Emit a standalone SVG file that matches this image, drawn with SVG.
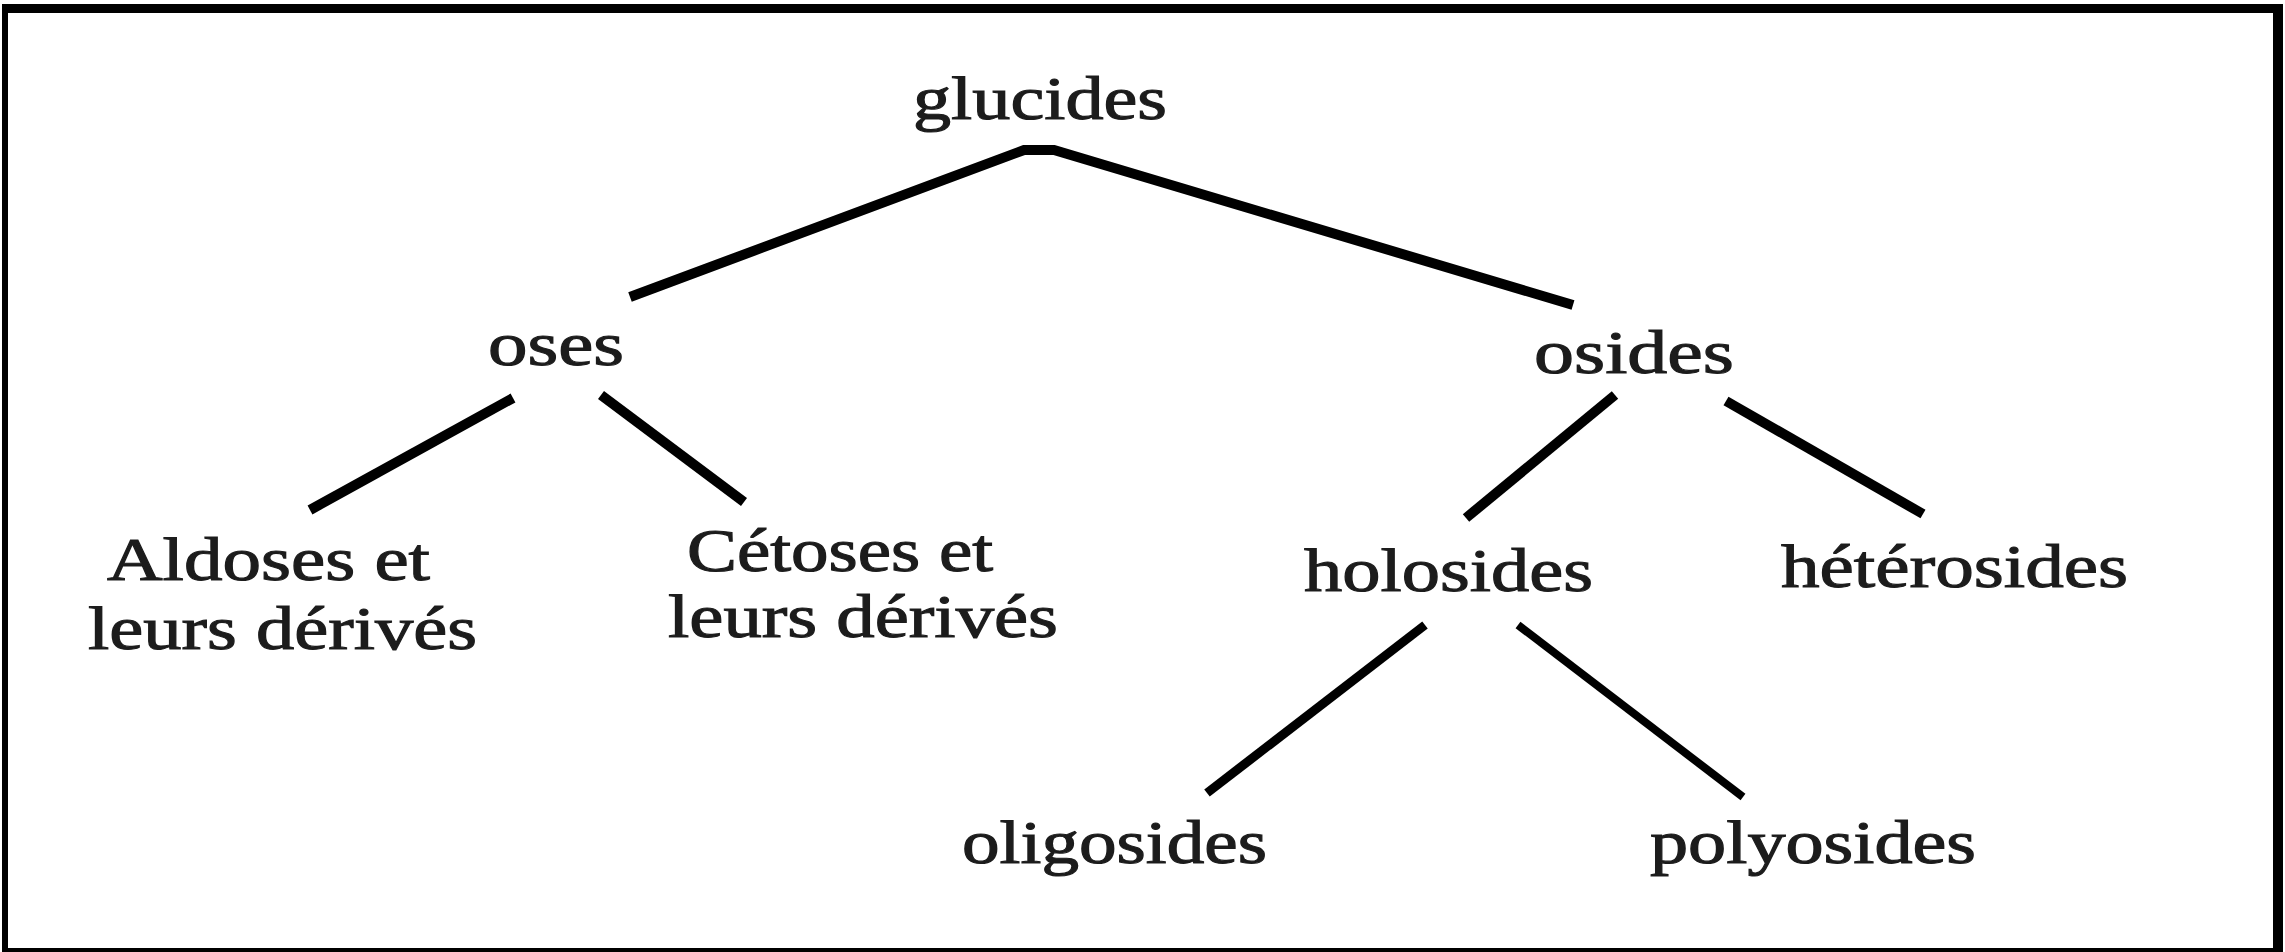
<svg xmlns="http://www.w3.org/2000/svg" width="2285" height="952" viewBox="0 0 2285 952">
  <style>
    .lbl { font-family: "Liberation Serif", "Times New Roman", serif; font-size: 62px; fill: #1c1c1c; stroke: #1c1c1c; stroke-width: 1.1px; }
    .edge { stroke: #000; stroke-linecap: butt; stroke-linejoin: miter; fill: none; }
    .frame { fill: #000; }
  </style>
  <rect x="0" y="0" width="2285" height="952" fill="#fff"/>
  <g id="frame">
    <rect class="frame" x="2" y="4" width="2281" height="9"/>
    <rect class="frame" x="2" y="4" width="6" height="948"/>
    <rect class="frame" x="2273" y="4" width="10" height="948"/>
    <rect class="frame" x="2" y="948" width="2281" height="4"/>
  </g>
  <g id="connectors">
    <polyline class="edge" stroke-width="10" points="630,297 1024,150 1054,150 1573,305"/>
    <line class="edge" stroke-width="10" x1="513" y1="398" x2="310" y2="510"/>
    <line class="edge" stroke-width="10" x1="601" y1="395" x2="744" y2="502"/>
    <line class="edge" stroke-width="10" x1="1615" y1="395" x2="1466" y2="518"/>
    <line class="edge" stroke-width="10" x1="1726" y1="401" x2="1923" y2="514"/>
    <line class="edge" stroke-width="9" x1="1425" y1="625" x2="1207" y2="793"/>
    <line class="edge" stroke-width="8" x1="1518" y1="625" x2="1743" y2="797"/>
  </g>
  <g id="glucides"><text class="lbl" x="913" y="119" textLength="254" lengthAdjust="spacingAndGlyphs">glucides</text></g>
  <g id="oses"><text class="lbl" x="488" y="365" textLength="136" lengthAdjust="spacingAndGlyphs">oses</text></g>
  <g id="osides"><text class="lbl" x="1534" y="373" textLength="200" lengthAdjust="spacingAndGlyphs">osides</text></g>
  <g id="aldoses">
    <text class="lbl" x="107" y="580" textLength="323" lengthAdjust="spacingAndGlyphs">Aldoses et</text>
    <text class="lbl" x="88" y="649" textLength="389" lengthAdjust="spacingAndGlyphs">leurs dérivés</text>
  </g>
  <g id="cetoses">
    <text class="lbl" x="687" y="571" textLength="306" lengthAdjust="spacingAndGlyphs">Cétoses et</text>
    <text class="lbl" x="668" y="637" textLength="390" lengthAdjust="spacingAndGlyphs">leurs dérivés</text>
  </g>
  <g id="holosides"><text class="lbl" x="1304" y="591" textLength="289" lengthAdjust="spacingAndGlyphs">holosides</text></g>
  <g id="heterosides"><text class="lbl" x="1781" y="587" textLength="347" lengthAdjust="spacingAndGlyphs">hétérosides</text></g>
  <g id="oligosides"><text class="lbl" x="962" y="863" textLength="305" lengthAdjust="spacingAndGlyphs">oligosides</text></g>
  <g id="polyosides"><text class="lbl" x="1650" y="863" textLength="326" lengthAdjust="spacingAndGlyphs">polyosides</text></g>
</svg>
